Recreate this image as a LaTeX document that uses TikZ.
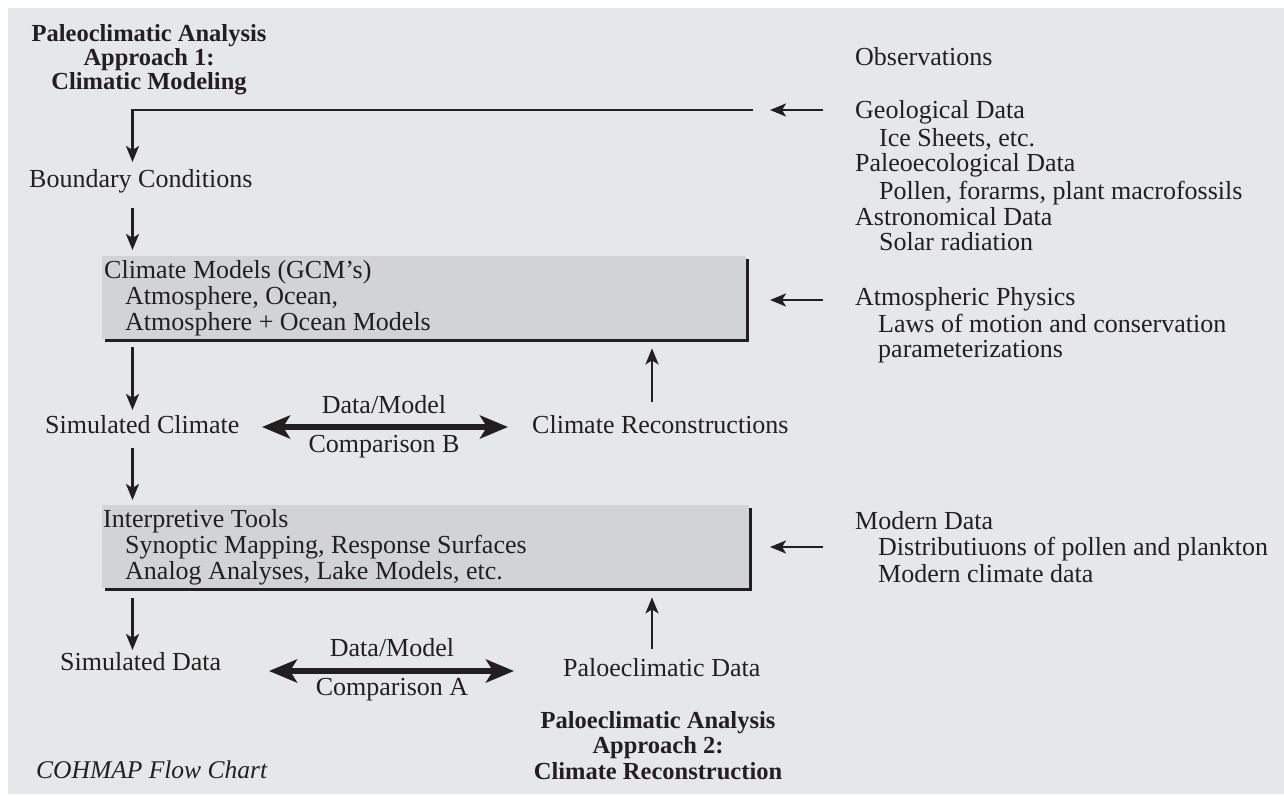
\documentclass[tikz,border=0pt]{standalone}
\usepackage{fontspec}
\setmainfont{Liberation Serif}
\usetikzlibrary{arrows.meta,calc}
\definecolor{bg}{HTML}{E6E7E8}
\definecolor{boxgray}{HTML}{D1D3D4}
\definecolor{ink}{HTML}{231F20}
\begin{document}
\begin{tikzpicture}[x=1pt,y=-1pt,
  txt/.style={anchor=base west,inner sep=0pt,font=\fontsize{26}{26}\selectfont,text=ink},
  ctxt/.style={anchor=base,inner sep=0pt,font=\fontsize{26}{26}\selectfont,text=ink},
  btxt/.style={anchor=base,inner sep=0pt,font=\fontsize{24.5}{24.5}\selectfont\bfseries,text=ink},
  itxt/.style={anchor=base west,inner sep=0pt,font=\fontsize{25.5}{25.5}\selectfont\itshape,text=ink},
  gbox/.style={fill=boxgray,draw=none,inner sep=0pt,anchor=north west},
  edge/.style={draw=ink,line width=3pt},
  arr/.style={draw=ink,line width=2.4pt,-{Stealth[length=16pt,width=13pt,inset=4pt]}},
  dbl/.style={draw=ink,line width=5.5pt,{Stealth[length=28pt,width=23pt,inset=7pt]}-{Stealth[length=28pt,width=23pt,inset=7pt]}}
]
\useasboundingbox (0,0) rectangle (1284,795);
\fill[bg] (8,8) rectangle (1284,794);

% column coordinates
\coordinate (colL) at (132.5,0);
\coordinate (colR) at (652,0);

% title 1
\node[btxt] (t1a) at (149,41) {Paleoclimatic Analysis};
\node[btxt] (t1b) at (149,65) {Approach 1:};
\node[btxt] (t1c) at (149,89) {Climatic Modeling};

% left column
\node[txt] (bc) at (29,187) {Boundary Conditions};

\node[gbox,minimum width=644pt,minimum height=83pt] (box1) at (102,256) {};
\draw[edge] ([xshift=3pt,yshift=-1.5pt]box1.south west) -- ([xshift=1.5pt,yshift=-1.5pt]box1.south east) -- ([xshift=1.5pt,yshift=-3pt]box1.north east);
\node[txt] (b1a) at (104,278) {Climate Models (GCM's)};
\node[txt] (b1b) at (125,304) {Atmosphere, Ocean,};
\node[txt] (b1c) at (125,330) {Atmosphere + Ocean Models};

\node[txt] (simc) at (45,433) {Simulated Climate};
\node[ctxt] (dmB) at (384,413) {Data/Model};
\node[ctxt] (cmB) at (384,452) {Comparison B};
\node[txt] (crec) at (532,433) {Climate Reconstructions};

\node[gbox,minimum width=647pt,minimum height=83pt] (box2) at (102,505) {};
\draw[edge] ([xshift=3pt,yshift=-1.5pt]box2.south west) -- ([xshift=1.5pt,yshift=-1.5pt]box2.south east) -- ([xshift=1.5pt,yshift=-3pt]box2.north east);
\node[txt] (b2a) at (103,527) {Interpretive Tools};
\node[txt] (b2b) at (125,553) {Synoptic Mapping, Response Surfaces};
\node[txt] (b2c) at (125,579) {Analog Analyses, Lake Models, etc.};

\node[txt] (simd) at (60,670) {Simulated Data};
\node[ctxt] (dmA) at (392,656) {Data/Model};
\node[ctxt] (cmA) at (392,695) {Comparison A};
\node[txt] (paldat) at (563,676) {Paloeclimatic Data};

\node[btxt] (t2a) at (658,728) {Paloeclimatic Analysis};
\node[btxt] (t2b) at (658,753) {Approach 2:};
\node[btxt] (t2c) at (658,779) {Climate Reconstruction};

\node[itxt] (cap) at (36,778) {COHMAP Flow Chart};

% right column
\node[txt] (obs) at (855,65) {Observations};
\node[txt] (geo) at (855,118) {Geological Data};
\node[txt] (geo2) at (879,146) {Ice Sheets, etc.};
\node[txt] (pal) at (855,171) {Paleoecological Data};
\node[txt] (pal2) at (879,199) {Pollen, forarms, plant macrofossils};
\node[txt] (ast) at (855,225) {Astronomical Data};
\node[txt] (ast2) at (879,250) {Solar radiation};

\node[txt] (atmo) at (855,305) {Atmospheric Physics};
\node[txt] (atmo2) at (878,332) {Laws of motion and conservation};
\node[txt] (atmo3) at (878,357) {parameterizations};

\node[txt] (mod) at (855,529) {Modern Data};
\node[txt] (mod2) at (878,555) {Distributiuons of pollen and plankton};
\node[txt] (mod3) at (878,582) {Modern climate data};

% connectors
\draw[arr] ([xshift=-102pt,yshift=8pt]geo.base west) -| ([yshift=25pt]bc.base -| colL);
\draw[arr] ([xshift=-32pt,yshift=8pt]geo.base west) -- ([xshift=-85pt,yshift=8pt]geo.base west);
\draw[arr] ([yshift=-21pt]bc.base -| colL) -- ([yshift=6pt]box1.north -| colL);
\draw[arr] ([yshift=-8pt]box1.south -| colL) -- ([yshift=23pt]simc.base -| colL);
\draw[arr] ([yshift=-15pt]simc.base -| colL) -- ([yshift=5pt]box2.north -| colL);
\draw[arr] ([yshift=-10pt]box2.south -| colL) -- ([yshift=20pt]simd.base -| colL);
\draw[arr] ([yshift=31pt]crec.base -| colR) -- ([yshift=-9pt]box1.south -| colR);
\draw[arr] ([yshift=27pt]paldat.base -| colR) -- ([yshift=-9pt]box2.south -| colR);
\draw[arr] ([xshift=-32pt,yshift=5pt]atmo.base west) -- ([xshift=-85pt,yshift=5pt]atmo.base west);
\draw[arr] ([xshift=-32pt,yshift=-18pt]mod.base west) -- ([xshift=-85pt,yshift=-18pt]mod.base west);
\draw[dbl] ([xshift=217pt,yshift=6pt]simc.base west) -- ([xshift=-24pt,yshift=6pt]crec.base west);
\draw[dbl] ([xshift=209pt,yshift=-1pt]simd.base west) -- ([xshift=-49pt,yshift=5pt]paldat.base west);
\end{tikzpicture}
\end{document}
